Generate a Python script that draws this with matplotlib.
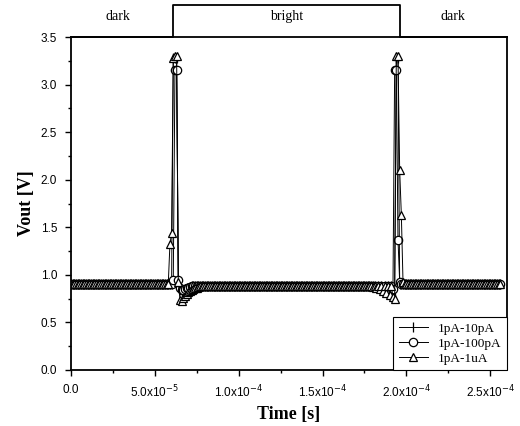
import numpy as np
import matplotlib.pyplot as plt
import matplotlib.transforms as mtransforms

# sampling times (microseconds) of the simulated output
t_us = np.arange(0, 257)
dark_level = 0.90
bright_level = 0.88
bright_start_us = 60.7
bright_end_us = 196.4

spike_10p = {60: 0.90, 61: 3.28, 62: 3.28, 63: 3.28, 64: 0.90, 65: 0.84, 66: 0.83,
             67: 0.84, 68: 0.85, 69: 0.86, 70: 0.86, 71: 0.87,
             182: 0.87, 184: 0.86, 186: 0.84, 188: 0.82, 190: 0.80, 192: 0.79,
             193: 0.80, 194: 3.28, 195: 3.28, 196: 0.90}
spike_100p = {61: 0.95, 62: 3.15, 63: 3.15, 64: 0.95, 65: 0.86, 66: 0.84, 67: 0.84,
              68: 0.85, 69: 0.86, 70: 0.86, 71: 0.87,
              182: 0.87, 184: 0.86, 186: 0.85, 188: 0.83, 190: 0.82, 192: 0.85,
              193: 3.15, 194: 3.15, 195: 1.37, 196: 0.93}
spike_1u = {58: 0.90, 59: 1.32, 60: 1.44, 61: 3.28, 62: 3.30, 63: 3.30, 64: 0.92,
            65: 0.74, 66: 0.72, 67: 0.76, 68: 0.78, 69: 0.80, 70: 0.82, 71: 0.83,
            72: 0.84, 73: 0.85, 74: 0.86, 75: 0.86, 76: 0.87,
            180: 0.87, 182: 0.86, 184: 0.85, 186: 0.83, 188: 0.81, 190: 0.79,
            192: 0.77, 193: 0.75, 194: 3.30, 195: 3.30, 196: 2.10, 197: 1.63, 198: 0.92}

labels = ['1pA-10pA', '1pA-100pA', '1pA-1uA']
markers = ['|', 'o', '^']


def build(spikes):
    v = np.where((t_us > bright_start_us) & (t_us < bright_end_us), bright_level, dark_level)
    for k, val in spikes.items():
        v[k] = val
    return v


series = [build(spike_10p), build(spike_100p), build(spike_1u)]
t = t_us * 1e-6

fig = plt.figure(figsize=(5.2, 4.26), dpi=100)
ax = fig.add_axes([0.1365, 0.1315, 0.975 - 0.1365, 0.913 - 0.1315])

for v, lab, m in zip(series, labels, markers):
    ax.plot(t, v, color='black', lw=0.7, marker=m, markersize=6 if m != '|' else 7,
            markerfacecolor='white', markeredgecolor='black', markeredgewidth=0.9,
            label=lab)

ax.set_xlim(0, 2.6e-4)
ax.set_ylim(0, 3.5)

xt = [0, 5e-5, 1e-4, 1.5e-4, 2e-4, 2.5e-4]
xl = ['0.0', '5.0x10$^{-5}$', '1.0x10$^{-4}$', '1.5x10$^{-4}$', '2.0x10$^{-4}$', '2.5x10$^{-4}$']
ax.set_xticks(xt)
ax.set_xticklabels(xl)
ax.set_xticks(np.arange(2.5e-5, 2.6e-4, 5e-5), minor=True)
ax.set_yticks(np.arange(0, 3.51, 0.5))
ax.set_yticklabels(['%.1f' % y for y in np.arange(0, 3.51, 0.5)])
ax.set_yticks(np.arange(0.25, 3.5, 0.5), minor=True)
ax.tick_params(direction='out', length=4, width=1, labelsize=8.5, pad=6)
ax.tick_params(which='minor', direction='out', length=2.5, width=1)
for lb in ax.get_xticklabels() + ax.get_yticklabels():
    lb.set_family('Liberation Sans')
for s in ax.spines.values():
    s.set_linewidth(1.3)

ax.set_xlabel('Time [s]', family='Liberation Serif', fontweight='bold', fontsize=13)
ax.set_ylabel('Vout [V]', family='Liberation Serif', fontweight='bold', fontsize=13)

# light on/off signal above the plot
trans = mtransforms.blended_transform_factory(ax.transData, ax.transAxes)
sx = [0, bright_start_us * 1e-6, bright_start_us * 1e-6, bright_end_us * 1e-6,
      bright_end_us * 1e-6, 2.6e-4]
sy = [1.0, 1.0, 1.096, 1.096, 1.0, 1.0]
ax.plot(sx, sy, color='black', lw=1.3, transform=trans, clip_on=False)
ax.text(2.8e-5, 1.063, 'dark', transform=trans, ha='center', va='center',
        family='Liberation Serif', fontsize=10)
ax.text(1.285e-4, 1.063, 'bright', transform=trans, ha='center', va='center',
        family='Liberation Serif', fontsize=10)
ax.text(2.28e-4, 1.063, 'dark', transform=trans, ha='center', va='center',
        family='Liberation Serif', fontsize=10)

leg = ax.legend(loc='lower right', prop={'family': 'Liberation Serif', 'size': 9.5},
                fancybox=False, edgecolor='black', framealpha=1, borderaxespad=0.0,
                handlelength=2.2, labelspacing=0.2)
leg.get_frame().set_linewidth(0.8)

fig.savefig('out.png', dpi=100)
